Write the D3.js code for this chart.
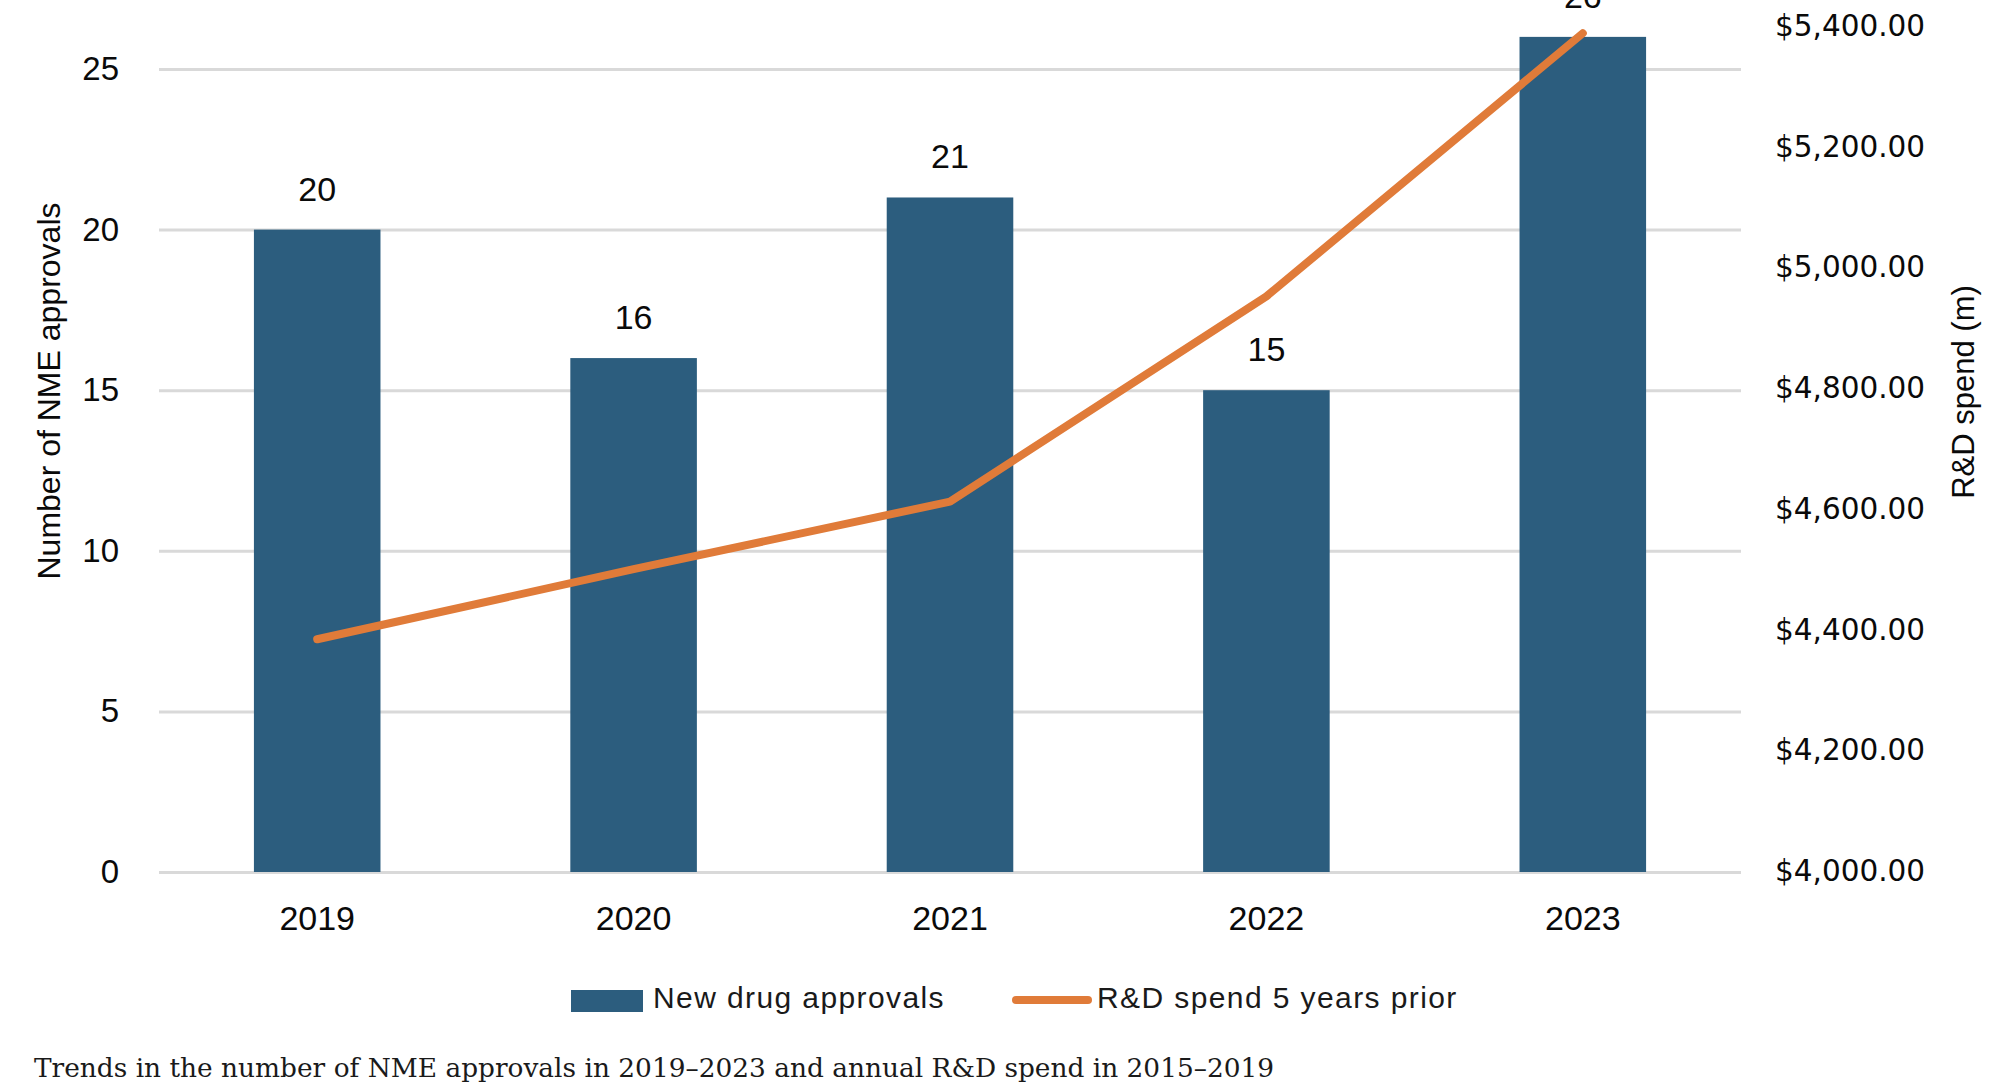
<!DOCTYPE html>
<html>
<head>
<meta charset="utf-8">
<script src="https://cdn.jsdelivr.net/npm/d3@7"></script>
<style>
  html, body { margin: 0; padding: 0; background: #fff; }
  svg { display: block; }
</style>
</head>
<body>
<div id="chart"></div>
<script>
// data
var years = ['2019', '2020', '2021', '2022', '2023'];
var approvals = [20, 16, 21, 15, 26];
var rdSpend = [4384, 4500, 4612, 4952, 5388];
var leftTicks = [0, 5, 10, 15, 20, 25];
var rightTicks = [4000, 4200, 4400, 4600, 4800, 5000, 5200, 5400];
var seriesNames = ['New drug approvals', 'R&D spend 5 years prior'];
var caption = 'Trends in the number of NME approvals in 2019\u20132023 and annual R&D spend in 2015\u20132019';

var width = 2000;
var height = 1082;
var plot = {left: 159, right: 1741, top: 69, bottom: 872};
var barColor = '#2c5d7e';
var lineColor = '#e07b39';
var gridColor = '#d9d9d9';
var textColor = '#0a0a0a';
var sans = '"Liberation Sans", Arial, sans-serif';

var svg = d3.select('#chart')
    .append('svg')
    .attr('width', width)
    .attr('height', height)
    .style('background', '#fff');

var x = d3.scaleBand()
    .domain(years)
    .range([plot.left, plot.right])
    .paddingInner(0.6)
    .paddingOuter(0.3);

var yLeft = d3.scaleLinear()
    .domain([0, 25])
    .range([plot.bottom, plot.top]);

var yRight = d3.scaleLinear()
    .domain([4000, 5400])
    .range([871, 26]);

// gridlines
svg.append('g')
    .attr('class', 'grid')
    .attr('transform', `translate(${plot.left},0)`)
    .call(d3.axisLeft(yLeft)
        .tickValues(leftTicks)
        .tickSize(-(plot.right - plot.left))
        .tickFormat(''))
    .call(function(g) {
        g.select('.domain').remove();
        g.selectAll('line')
            .attr('stroke', gridColor)
            .attr('stroke-width', 3);
    });

// left axis labels
svg.append('g')
    .attr('transform', `translate(${plot.left},0)`)
    .call(d3.axisLeft(yLeft)
        .tickValues(leftTicks)
        .tickSize(0)
        .tickPadding(40))
    .call(function(g) {
        g.select('.domain').remove();
        g.selectAll('text')
            .attr('fill', textColor)
            .style('font-family', sans)
            .style('font-size', '33px');
    });

// right axis labels
svg.append('g')
    .attr('transform', `translate(${plot.right},0)`)
    .call(d3.axisRight(yRight)
        .tickValues(rightTicks)
        .tickSize(0)
        .tickPadding(34)
        .tickFormat(function(d) {
            return '$' + d3.format(',.2f')(d);
        }))
    .call(function(g) {
        g.select('.domain').remove();
        g.selectAll('text')
            .attr('fill', textColor)
            .style('font-family', '"DejaVu Sans", sans-serif')
            .style('font-size', '29.5px');
    });

// bars
svg.append('g')
    .selectAll('rect')
    .data(approvals)
    .enter()
    .append('rect')
    .attr('x', function(d, i) { return x(years[i]); })
    .attr('y', function(d) { return yLeft(d); })
    .attr('width', x.bandwidth())
    .attr('height', function(d) { return yLeft(0) - yLeft(d); })
    .attr('fill', barColor);

// bar value labels
svg.append('g')
    .selectAll('text')
    .data(approvals)
    .enter()
    .append('text')
    .attr('x', function(d, i) { return x(years[i]) + x.bandwidth() / 2; })
    .attr('y', function(d) { return yLeft(d) - 29; })
    .attr('text-anchor', 'middle')
    .attr('fill', textColor)
    .style('font-family', sans)
    .style('font-size', '34px')
    .text(function(d) { return d; });

// spend line
var line = d3.line()
    .x(function(d, i) { return x(years[i]) + x.bandwidth() / 2; })
    .y(function(d) { return yRight(d); });

svg.append('path')
    .datum(rdSpend)
    .attr('d', line)
    .attr('fill', 'none')
    .attr('stroke', lineColor)
    .attr('stroke-width', 8)
    .attr('stroke-linecap', 'round')
    .attr('stroke-linejoin', 'round');

// x axis labels
svg.append('g')
    .attr('transform', `translate(0,${plot.bottom})`)
    .call(d3.axisBottom(x).tickSize(0))
    .call(function(g) {
        g.select('.domain').remove();
        g.selectAll('text')
            .attr('y', 58)
            .attr('dy', 0)
            .attr('fill', textColor)
            .style('font-family', sans)
            .style('font-size', '34px');
    });

// axis titles
svg.append('text')
    .attr('transform', 'translate(60,391) rotate(-90)')
    .attr('text-anchor', 'middle')
    .attr('fill', textColor)
    .style('font-family', sans)
    .style('font-size', '32px')
    .text('Number of NME approvals');

svg.append('text')
    .attr('transform', 'translate(1974,392) rotate(-90)')
    .attr('text-anchor', 'middle')
    .attr('fill', textColor)
    .style('font-family', sans)
    .style('font-size', '31px')
    .text('R&D spend (m)');

// legend
var legend = svg.append('g')
    .style('font-family', sans)
    .style('font-size', '30px')
    .style('letter-spacing', '1.4px')
    .attr('fill', '#1a1a1a');

legend.append('rect')
    .attr('x', 571)
    .attr('y', 990)
    .attr('width', 72)
    .attr('height', 22)
    .attr('fill', barColor);

legend.append('text')
    .attr('x', 653)
    .attr('y', 1008)
    .text(seriesNames[0]);

legend.append('line')
    .attr('x1', 1016)
    .attr('x2', 1088)
    .attr('y1', 1000)
    .attr('y2', 1000)
    .attr('stroke', lineColor)
    .attr('stroke-width', 8)
    .attr('stroke-linecap', 'round');

legend.append('text')
    .attr('x', 1097)
    .attr('y', 1008)
    .text(seriesNames[1]);

// caption under the chart
svg.append('text')
    .attr('x', 34)
    .attr('y', 1077)
    .attr('fill', '#1a1a1a')
    .style('font-family', '"DejaVu Serif", serif')
    .style('font-size', '26.4px')
    .text(caption);
</script>
</body>
</html>
